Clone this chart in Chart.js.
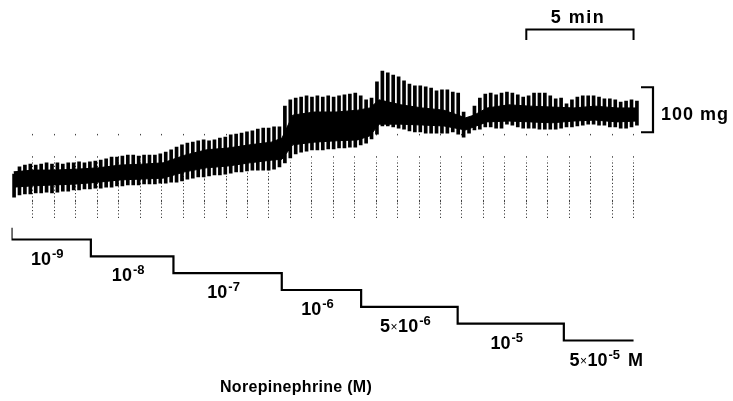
<!DOCTYPE html>
<html>
<head>
<meta charset="utf-8">
<script src="https://cdn.jsdelivr.net/npm/chart.js@4/dist/chart.umd.min.js"></script>
<style>
  html, body { margin: 0; padding: 0; background: #fff; }
  canvas { display: block; }
</style>
</head>
<body>
<canvas id="trace" width="733" height="401"></canvas>
<script>
// Isometric tension record: one contraction per stimulus, time in minutes, tension in mg.
const beatStart = 0.12;      // min, first contraction
const beatInterval = 0.2525; // min between contractions
const beatPeak = [
  402,418,422,424,422,424,427,424,427,424,
  427,427,429,427,429,431,433,436,440,440,
  442,444,444,442,444,444,444,447,451,456,
  462,467,471,473,476,478,476,478,482,484,
  489,491,493,496,498,502,504,504,507,507,
  553,567,571,573,576,573,576,573,576,573,
  576,578,580,582,576,567,571,607,631,627,
  622,618,609,602,598,598,596,593,587,589,
  589,584,582,540,527,553,571,580,582,578,
  582,584,582,578,573,576,582,582,582,576,
  569,571,558,567,573,576,576,576,573,569,
  569,567,562,564,567,564
];
const beatTrough = [
  351,356,358,358,360,360,362,360,362,364,
  364,367,367,369,369,371,371,373,373,376,
  376,378,378,378,380,380,380,382,382,384,
  384,387,391,393,396,396,398,400,400,402,
  404,407,407,409,411,411,411,411,413,418,
  427,438,447,451,453,456,456,456,458,458,
  460,460,462,462,467,471,480,491,509,509,
  507,504,502,498,496,496,493,493,493,493,
  493,496,491,484,493,500,502,507,507,504,
  504,513,511,507,504,504,504,502,502,502,
  502,504,507,507,509,511,513,513,511,511,
  507,507,504,504,507,511
];

// Dense middle of the pen record, where successive strokes merge.
const coreTime  = [0.1,1.03,2.04,3.04,4.05,5.06,6.07,7.07,8.08,9.09,10.09,11.1,12.11,12.61,13.11,14.12,15.13,16.14,16.71,17.14,18.15,19.16,20.16,21.17,21.56,22.18,23.18,24.19,25.2,26.21,27.21,28.22,29.15];
const coreUpper = [407,411,411,413,416,422,424,427,444,456,460,467,473,482,533,540,540,544,549,567,556,549,544,527,533,549,556,553,551,549,553,549,549];
const coreLower = [373,376,378,380,384,389,391,393,407,416,420,427,433,435,467,473,476,478,487,513,513,511,509,500,507,518,520,518,516,520,522,518,520];

// Cumulative norepinephrine concentrations (step index and start time in min).
const doseTimes    = [0, 3.7, 7.55, 12.6, 16.3, 20.8, 25.75];
const doseEnd      = 29.0;
const doseLevel    = [0, 1, 2, 3, 4, 5, 6];
const doseMantissa = ['', '', '', '', '5', '', '5'];
const doseExponent = ['-9', '-8', '-7', '-6', '-6', '-5', '-5'];
const doseUnit     = ['', '', '', '', '', '', 'M'];

// Calibration bars.
const timeBar  = [24, 29];    // min  -> "5 min"
const forceBar = [495, 595];  // mg   -> "100 mg"

const FONT = '"Liberation Sans", Arial, Helvetica, sans-serif';

const beats = beatPeak.map((hi, i) => ({ x: beatStart + i * beatInterval, y: [beatTrough[i], hi] }));
const coreTop = coreTime.map((t, i) => ({ x: t, y: coreUpper[i] }));
const coreBottom = coreTime.map((t, i) => ({ x: t, y: coreLower[i] }));
const steps = [{ x: doseTimes[0], y: -0.7 }]
  .concat(doseTimes.map((t, i) => ({ x: t, y: doseLevel[i] })))
  .concat([{ x: doseEnd, y: doseLevel[doseLevel.length - 1] }]);

// vertical colour band used to keep the minute marks inside the record strip
function band(chart, from, to, colour) {
  const area = chart.chartArea;
  if (!area) return 'rgba(0,0,0,0)';
  const g = chart.ctx.createLinearGradient(0, area.top, 0, area.bottom);
  const h = area.bottom - area.top;
  const a = Math.max(0, Math.min(1, (from - area.top) / h));
  const b = Math.max(0, Math.min(1, (to - area.top) / h));
  g.addColorStop(0, 'rgba(0,0,0,0)');
  g.addColorStop(a, 'rgba(0,0,0,0)');
  g.addColorStop(a, colour);
  g.addColorStop(b, colour);
  g.addColorStop(b, 'rgba(0,0,0,0)');
  g.addColorStop(1, 'rgba(0,0,0,0)');
  return g;
}

function minuteMark(from, to, colour) {
  return (c) => {
    const v = c.tick ? c.tick.value : 0;
    if (v <= 0 || v >= 30) return 'rgba(0,0,0,0)';
    return band(c.chart, from, to, colour);
  };
}

function drawDoseLabel(ctx, cx, baseline, mant, exp, unit) {
  const main = 'bold 18px ' + FONT, small = 'bold 13px ' + FONT;
  const pieces = [];
  if (mant) {
    pieces.push({ t: mant, f: main, dy: 0, gap: 0 });
    pieces.push({ t: '\u00d7', f: '12px ' + FONT, dy: -1, gap: 0.5 });
  }
  pieces.push({ t: '10', f: main, dy: 0, gap: mant ? 0.5 : 0 });
  pieces.push({ t: exp, f: small, dy: -7, gap: 1 });
  let w = 0;
  for (const p of pieces) { ctx.font = p.f; p.w = ctx.measureText(p.t).width; w += p.w + p.gap; }
  let x = cx - w / 2;
  for (const p of pieces) {
    x += p.gap;
    ctx.font = p.f;
    ctx.fillText(p.t, x, baseline + p.dy);
    x += p.w;
  }
  if (unit) { ctx.font = main; ctx.fillText(unit, x + 8, baseline); }
}

const annotations = {
  id: 'annotations',
  afterDatasetsDraw(chart) {
    const { ctx, chartArea } = chart;
    const { x, y, y2 } = chart.scales;
    ctx.save();
    ctx.fillStyle = '#000';
    ctx.strokeStyle = '#000';
    ctx.textAlign = 'left';
    ctx.textBaseline = 'alphabetic';
    ctx.lineCap = 'butt';
    ctx.lineJoin = 'miter';

    // 5 min bar
    const xa = x.getPixelForValue(timeBar[0]);
    const xb = x.getPixelForValue(timeBar[1]);
    ctx.lineWidth = 2;
    ctx.beginPath();
    ctx.moveTo(xa, 40); ctx.lineTo(xa, 29.5); ctx.lineTo(xb, 29.5); ctx.lineTo(xb, 40);
    ctx.stroke();
    ctx.font = 'bold 18px ' + FONT;
    if ('letterSpacing' in ctx) ctx.letterSpacing = '1.5px';
    ctx.textAlign = 'center';
    ctx.fillText('5 min', (xa + xb) / 2 - 2, 23);
    if ('letterSpacing' in ctx) ctx.letterSpacing = '0px';
    ctx.textAlign = 'left';

    // 100 mg bar
    const ya = y.getPixelForValue(forceBar[0]);
    const yb = y.getPixelForValue(forceBar[1]);
    const xr = chartArea.right - 2;
    ctx.lineWidth = 2.2;
    ctx.beginPath();
    ctx.moveTo(xr - 12, yb); ctx.lineTo(xr, yb); ctx.lineTo(xr, ya); ctx.lineTo(xr - 12, ya);
    ctx.stroke();
    ctx.font = 'bold 18px ' + FONT;
    if ('letterSpacing' in ctx) ctx.letterSpacing = '1px';
    ctx.fillText('100 mg', xr + 8, (ya + yb) / 2 + 10);
    if ('letterSpacing' in ctx) ctx.letterSpacing = '0px';

    // concentration of each step
    doseTimes.forEach((t, i) => {
      const t1 = i + 1 < doseTimes.length ? doseTimes[i + 1] : doseEnd;
      const cx = (x.getPixelForValue(t) + x.getPixelForValue(t1)) / 2 - 4;
      const base = y2.getPixelForValue(doseLevel[i]) + 25;
      drawDoseLabel(ctx, cx, base, doseMantissa[i], doseExponent[i], doseUnit[i]);
    });

    // axis caption for the staircase
    ctx.font = 'bold 16px ' + FONT;
    if ('letterSpacing' in ctx) ctx.letterSpacing = '0.3px';
    ctx.fillText('Norepinephrine (M)', 220, 392);
    if ('letterSpacing' in ctx) ctx.letterSpacing = '0px';
    ctx.restore();
  }
};

new Chart(document.getElementById('trace'), {
  type: 'bar',
  data: {
    datasets: [
      {
        label: 'Tension',
        data: beats,
        backgroundColor: '#000',
        borderWidth: 0,
        barThickness: 3,
        yAxisID: 'y',
        order: 2
      },
      {
        type: 'line',
        label: 'core upper',
        data: coreTop,
        borderColor: '#000',
        borderWidth: 1,
        pointRadius: 0,
        tension: 0,
        fill: false,
        yAxisID: 'y',
        order: 1
      },
      {
        type: 'line',
        label: 'core lower',
        data: coreBottom,
        borderColor: '#000',
        backgroundColor: '#000',
        borderWidth: 1,
        pointRadius: 0,
        tension: 0,
        fill: '-1',
        yAxisID: 'y',
        order: 1
      },
      {
        type: 'line',
        label: 'Norepinephrine',
        data: steps,
        borderColor: '#000',
        borderWidth: 2.2,
        pointRadius: 0,
        stepped: true,
        fill: false,
        yAxisID: 'y2',
        order: 0
      }
    ]
  },
  options: {
    responsive: false,
    animation: false,
    devicePixelRatio: 1,
    events: [],
    layout: { padding: { left: 11.5, right: 78, top: 40, bottom: 46 } },
    plugins: { legend: { display: false }, tooltip: { enabled: false } },
    scales: {
      x: {
        type: 'linear', min: 0, max: 30, offset: false,
        ticks: { display: false, stepSize: 1, maxTicksLimit: 40 },
        grid: { offset: false, drawTicks: false, lineWidth: 1, color: minuteMark(160, 219, '#3a3a3a') },
        border: { display: false, dash: [1.2, 2.2] }
      },
      x2: {
        type: 'linear', position: 'bottom', min: 0, max: 30, offset: false,
        ticks: { display: false, stepSize: 1, maxTicksLimit: 40 },
        grid: { offset: false, drawTicks: false, lineWidth: 1, color: minuteMark(125, 219, '#444') },
        border: { display: false, dash: [1.5, 20.8], dashOffset: 17.6 }
      },
      y: { display: false, min: 0, max: 700 },
      y2: { display: false, reverse: true, min: -11.85, max: 6.86 }
    }
  },
  plugins: [annotations]
});
</script>
</body>
</html>
